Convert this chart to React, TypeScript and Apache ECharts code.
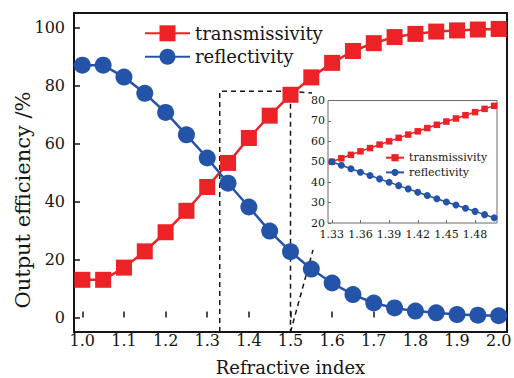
import React, { useEffect, useRef } from "react";
import * as echarts from "echarts";

// ---- data ----
const refractiveIndex = [1.0, 1.05, 1.1, 1.15, 1.2, 1.25, 1.3, 1.35, 1.4, 1.45, 1.5, 1.55, 1.6, 1.65, 1.7, 1.75, 1.8, 1.85, 1.9, 1.95, 2.0];
const transmissivity = [13.0, 13.0, 17.2, 22.8, 29.4, 36.8, 45.0, 53.3, 61.9, 69.6, 76.8, 82.8, 87.8, 91.9, 94.6, 96.7, 97.8, 98.6, 99.0, 99.3, 99.5];
const reflectivity = [87.0, 87.0, 82.9, 77.3, 70.7, 63.0, 55.0, 46.3, 38.1, 29.8, 22.7, 16.7, 11.9, 7.9, 5.0, 3.3, 2.2, 1.6, 1.0, 0.8, 0.6];

const insetIndex = [1.33, 1.34, 1.35, 1.36, 1.37, 1.38, 1.39, 1.4, 1.41, 1.42, 1.43, 1.44, 1.45, 1.46, 1.47, 1.48, 1.49, 1.5];
const insetTransmissivity = [50.0, 51.7, 53.4, 55.1, 56.7, 58.4, 60.0, 61.7, 63.3, 64.9, 66.5, 68.1, 69.7, 71.2, 72.8, 74.3, 75.9, 77.4];
const insetReflectivity = [50.0, 48.3, 46.6, 44.9, 43.3, 41.6, 40.0, 38.3, 36.7, 35.1, 33.5, 31.9, 30.3, 28.8, 27.2, 25.7, 24.1, 22.6];

const mainXTicks = [1.0, 1.1, 1.2, 1.3, 1.4, 1.5, 1.6, 1.7, 1.8, 1.9, 2.0];
const mainYTicks = [0, 20, 40, 60, 80, 100];
const insetXTicks = [1.33, 1.36, 1.39, 1.42, 1.45, 1.48];

const zoomXRange = [1.33, 1.5];
const zoomYTop = 78;

const seriesNames = ["transmissivity", "reflectivity"];
const xTitle = "Refractive index";
const yTitle = "Output efficiency /%";

// ---- style ----
const RED = "#ec2227";
const BLUE = "#2453aa";
const INK = "#151515";
const FONT = "DejaVu Serif";
const MAIN_YMIN = -5;
const INSET = { left: 328, top: 100.5, width: 169, height: 122.5 };

const zip = (xs: number[], ys: number[]) => xs.map((x, i) => [x, ys[i]]);

export default function App() {
  const ref = useRef<HTMLDivElement>(null);
  useEffect(() => {
    if (!ref.current) return;
    const chart = echarts.init(ref.current, undefined, { renderer: "svg" });
    const option: any = {
      animation: false,
      backgroundColor: "#ffffff",
      textStyle: { fontFamily: FONT },
      grid: [
        { left: 74, right: 7, top: 13, bottom: 46, show: true, borderColor: INK, borderWidth: 2, backgroundColor: "transparent", outerBoundsMode: "none", containLabel: false },
        { left: INSET.left, top: INSET.top, width: INSET.width, height: INSET.height, show: true, borderColor: "#6a6a6a", borderWidth: 1, backgroundColor: "#ffffff", z: 3, outerBoundsMode: "none", containLabel: false },
      ],
      xAxis: [
        {
          type: "value", gridIndex: 0, min: 0.98, max: 2.02,
          axisLine: { show: false },
          splitLine: { show: false },
          axisTick: { inside: true, length: 6, lineStyle: { color: INK, width: 1.5 }, customValues: mainXTicks },
          axisLabel: { customValues: mainXTicks, formatter: (v: number) => v.toFixed(1), fontSize: 16, color: INK, fontFamily: FONT, margin: 0, hideOverlap: false },
          name: xTitle, nameLocation: "middle", nameGap: 26,
          nameTextStyle: { fontSize: 18, color: INK, fontFamily: FONT },
        },
        {
          type: "value", gridIndex: 1, min: 1.326, max: 1.503, z: 4,
          axisLine: { show: false },
          splitLine: { show: false },
          axisTick: { inside: true, length: 3, lineStyle: { color: "#6a6a6a", width: 1 }, customValues: insetXTicks },
          axisLabel: { customValues: insetXTicks, formatter: (v: number) => v.toFixed(2), fontSize: 11, color: INK, fontFamily: FONT, margin: 5.5, hideOverlap: false },
        },
      ],
      yAxis: [
        {
          type: "value", gridIndex: 0, min: MAIN_YMIN, max: 105,
          axisLine: { show: false },
          splitLine: { show: false },
          axisTick: { inside: true, length: 6, lineStyle: { color: INK, width: 1.5 }, customValues: mainYTicks },
          axisLabel: { customValues: mainYTicks, fontSize: 16, color: INK, fontFamily: FONT, margin: 9 },
        },
        {
          type: "value", gridIndex: 1, min: 20, max: 80, interval: 10, z: 4,
          axisLine: { show: false },
          splitLine: { show: false },
          axisTick: { inside: true, length: 3, lineStyle: { color: "#6a6a6a", width: 1 } },
          axisLabel: { fontSize: 11, color: INK, fontFamily: FONT, margin: 3 },
        },
      ],
      legend: [
        {
          data: seriesNames, orient: "vertical", left: 144, top: 23.3, padding: 0,
          itemWidth: 45, itemHeight: 20, itemGap: 3.4,
          textStyle: { fontSize: 18, color: INK, fontFamily: FONT, lineHeight: 20 },
          selectedMode: false,
        },
        {
          data: seriesNames.map((n) => "inset " + n), orient: "vertical", left: 385, top: 152.2, padding: 0,
          itemWidth: 18, itemHeight: 9, itemGap: 3.7, z: 6,
          formatter: (n: string) => n.replace("inset ", ""),
          textStyle: { fontSize: 11, color: INK, fontFamily: FONT, lineHeight: 9 },
          selectedMode: false,
        },
      ],
      series: [
        {
          name: "zoom box", type: "line", xAxisIndex: 0, yAxisIndex: 0, silent: true, symbol: "none", z: 1,
          data: [[zoomXRange[0], MAIN_YMIN], [zoomXRange[0], zoomYTop], [zoomXRange[1], zoomYTop], [zoomXRange[1], MAIN_YMIN]],
          lineStyle: { color: INK, width: 1.5, type: [5, 4] },
        },
        {
          name: seriesNames[0], type: "line", xAxisIndex: 0, yAxisIndex: 0,
          data: zip(refractiveIndex, transmissivity),
          symbol: "rect", symbolSize: 16,
          lineStyle: { color: RED, width: 2.5 }, itemStyle: { color: RED },
        },
        {
          name: seriesNames[1], type: "line", xAxisIndex: 0, yAxisIndex: 0,
          data: zip(refractiveIndex, reflectivity),
          symbol: "circle", symbolSize: 17,
          lineStyle: { color: BLUE, width: 2.5 }, itemStyle: { color: BLUE },
        },
        {
          name: "inset " + seriesNames[0], type: "line", xAxisIndex: 1, yAxisIndex: 1, z: 5,
          data: zip(insetIndex, insetTransmissivity),
          symbol: "rect", symbolSize: 6.5,
          lineStyle: { color: RED, width: 1.5 }, itemStyle: { color: RED },
        },
        {
          name: "inset " + seriesNames[1], type: "line", xAxisIndex: 1, yAxisIndex: 1, z: 5,
          data: zip(insetIndex, insetReflectivity),
          symbol: "circle", symbolSize: 7,
          lineStyle: { color: BLUE, width: 1.5 }, itemStyle: { color: BLUE },
        },
      ],
    };
    chart.setOption(option);

    const topRight = chart.convertToPixel({ gridIndex: 0 }, [zoomXRange[1], zoomYTop]) as number[];
    const bottomRight = chart.convertToPixel({ gridIndex: 0 }, [zoomXRange[1], MAIN_YMIN]) as number[];
    const dash = { stroke: INK, lineWidth: 1.5, lineDash: [5, 4] };
    chart.setOption({
      graphic: [
        { type: "line", z: 1, silent: true, shape: { x1: topRight[0], y1: topRight[1], x2: INSET.left - 16, y2: INSET.top - 7.5 }, style: dash },
        { type: "line", z: 1, silent: true, shape: { x1: bottomRight[0], y1: bottomRight[1], x2: INSET.left - 15, y2: INSET.top + INSET.height + 27 }, style: dash },
        {
          type: "text", x: 23, y: 200, rotation: Math.PI / 2, silent: true,
          style: { text: yTitle, fontSize: 21, fontFamily: FONT, fill: INK, align: "center", verticalAlign: "middle" },
        },
      ],
    });
    return () => chart.dispose();
  }, []);
  return <div ref={ref} style={{ position: "fixed", left: 0, top: 0, width: 514, height: 378 }} />;
}
